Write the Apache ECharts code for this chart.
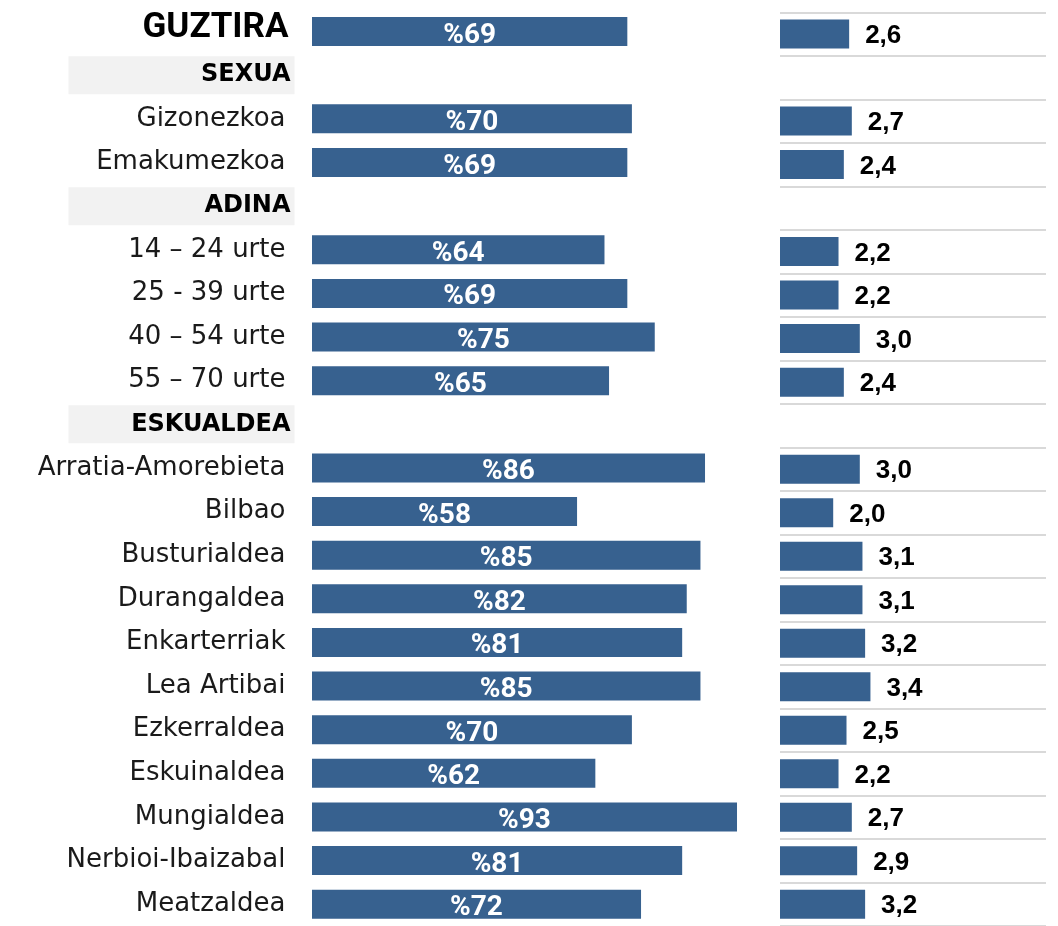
<!DOCTYPE html>
<html>
<head>
<meta charset="utf-8">
<style>
  html, body { margin: 0; padding: 0; background: #fff; }
  #chart { width: 1058px; height: 926px; }
</style>
<script src="https://cdn.jsdelivr.net/npm/echarts@6/dist/echarts.min.js"></script>
</head>
<body>
<div id="chart"></div>
<script>
// --- datuak ---
const categories = [
  'GUZTIRA', 'SEXUA', 'Gizonezkoa', 'Emakumezkoa',
  'ADINA', '14 – 24 urte', '25 - 39 urte', '40 – 54 urte', '55 – 70 urte',
  'ESKUALDEA', 'Arratia-Amorebieta', 'Bilbao', 'Busturialdea', 'Durangaldea',
  'Enkarterriak', 'Lea Artibai', 'Ezkerraldea', 'Eskuinaldea', 'Mungialdea',
  'Nerbioi-Ibaizabal', 'Meatzaldea'
];
const headers = ['SEXUA', 'ADINA', 'ESKUALDEA'];
const totalLabel = 'GUZTIRA';

// ehunekoak (ezkerreko barrak), '-' = goiburu-lerroa
const pctValues = [69, '-', 70, 69, '-', 64, 69, 75, 65, '-', 86, 58, 85, 82, 81, 85, 70, 62, 93, 81, 72];
// batez bestekoa (eskuineko barrak)
const scoreValues = [2.6, '-', 2.7, 2.4, '-', 2.2, 2.2, 3.0, 2.4, '-', 3.0, 2.0, 3.1, 3.1, 3.2, 3.4, 2.5, 2.2, 2.7, 2.9, 3.2];

const BAR = '#37618f';
const chart = echarts.init(document.getElementById('chart'));

function catLabel(v) {
  if (v === totalLabel) return '{t|' + v + '}';
  if (headers.includes(v)) return '{h|' + v + '}';
  return '{n|' + v + '}';
}

chart.setOption({
  animation: false,
  grid: [
    { left: 312, top: 9.8, width: 457, height: 919.8 },
    { left: 780, top: 12.3, width: 266, height: 921.9 }
  ],
  xAxis: [
    { gridIndex: 0, type: 'value', min: 0, max: 100, show: false },
    { gridIndex: 1, type: 'value', min: 0, max: 10, show: false }
  ],
  yAxis: [
    {
      gridIndex: 0, type: 'category', inverse: true, data: categories,
      axisLine: { show: false }, axisTick: { show: false }, splitLine: { show: false },
      axisLabel: {
        margin: 17.5,
        formatter: catLabel,
        rich: {
          n: { fontFamily: 'DejaVu Sans', fontSize: 26, color: '#1a1a1a', padding: [0, 9, 0, 0] },
          h: { fontFamily: 'DejaVu Sans', fontWeight: 'bold', fontSize: 24, color: '#000',
               backgroundColor: '#f2f2f2', width: 218, align: 'right', lineHeight: 24,
               padding: [7, 4, 7, 4] },
          t: { fontFamily: 'Roboto', fontWeight: 'bold', fontSize: 35, color: '#000', padding: [0, 6, 6, 0] }
        }
      }
    },
    {
      gridIndex: 1, type: 'category', inverse: true, data: categories,
      axisLine: { show: false }, axisTick: { show: false }, axisLabel: { show: false },
      splitLine: { show: true, lineStyle: { color: '#cccccc', width: 1.5 } }
    }
  ],
  series: [
    {
      type: 'bar', xAxisIndex: 0, yAxisIndex: 0, data: pctValues, barWidth: 29,
      itemStyle: { color: BAR },
      label: {
        show: true, position: 'inside', offset: [0, 4],
        formatter: p => '%' + p.value,
        color: '#fff', fontFamily: 'Roboto', fontWeight: 'bold', fontSize: 28
      }
    },
    {
      type: 'bar', xAxisIndex: 1, yAxisIndex: 1, data: scoreValues, barWidth: 29,
      itemStyle: { color: BAR },
      label: {
        show: true, position: 'right', distance: 16, offset: [0, 2],
        formatter: p => p.value.toFixed(1).replace('.', ','),
        color: '#000', fontFamily: 'Liberation Sans', fontWeight: 'bold', fontSize: 26
      }
    }
  ]
});
</script>
</body>
</html>
